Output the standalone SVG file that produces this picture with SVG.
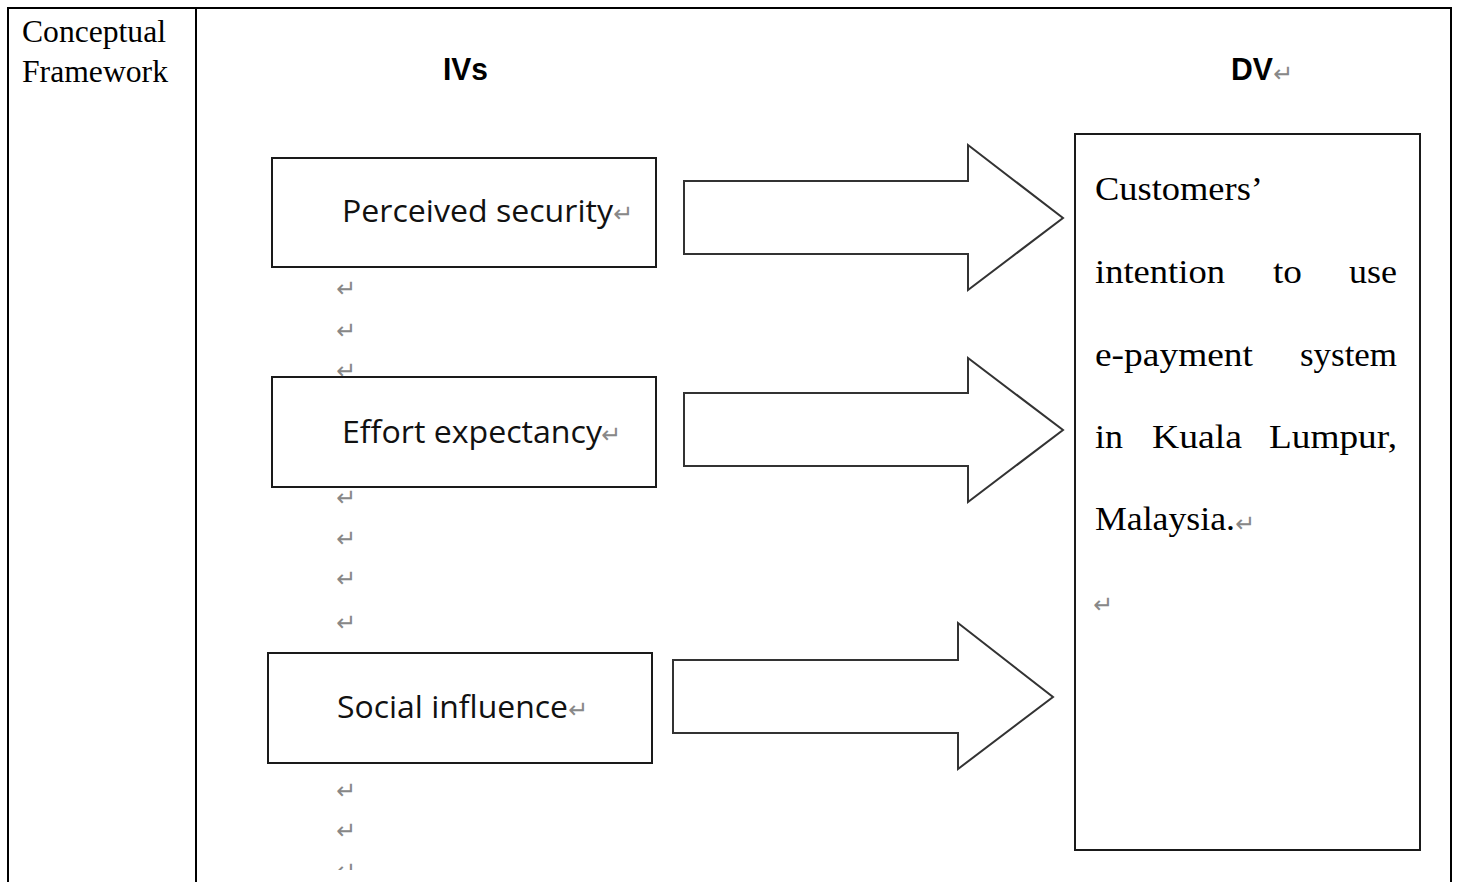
<svg xmlns="http://www.w3.org/2000/svg" width="1459" height="882" viewBox="0 0 1459 882">
<style>
.tb{fill:none;stroke:#000;stroke-width:2}
.box{fill:#fff;stroke:#1a1a1a;stroke-width:2}
.arr{fill:#fff;stroke:#333;stroke-width:2;stroke-linejoin:miter}
.serif{font-family:"Liberation Serif","Times New Roman",serif;fill:#000}
.lbl{font-family:"Open Sans","Noto Sans",sans-serif;font-size:31px;fill:#111}
.hd{font-family:"Liberation Sans",Arial,sans-serif;font-weight:bold;font-size:31px;fill:#000}
.pm{font-family:"DejaVu Sans",sans-serif;font-size:24px;fill:#888}
</style>
<defs>
<clipPath id="pg"><rect x="0" y="0" width="1459" height="870"/></clipPath>
</defs>
<rect x="0" y="0" width="1459" height="882" fill="#fff"/>
<g id="table">
<path class="tb" d="M8,882 V8 H1451 V882 M196,8 V882"/>
<text class="serif" x="22" y="42" font-size="31" textLength="144" lengthAdjust="spacingAndGlyphs">Conceptual</text>
<text class="serif" x="22" y="82" font-size="31" textLength="146" lengthAdjust="spacingAndGlyphs">Framework</text>
</g>
<g id="headers">
<text class="hd" x="443" y="80" textLength="45" lengthAdjust="spacingAndGlyphs">IVs</text>
<text class="hd" x="1231" y="80" textLength="42" lengthAdjust="spacingAndGlyphs">DV</text>
<text class="pm" x="1273" y="82">↵</text>
</g>
<g id="marks" clip-path="url(#pg)">
<text class="pm" x="336" y="297">↵</text>
<text class="pm" x="336" y="339">↵</text>
<text class="pm" x="336" y="379">↵</text>
<text class="pm" x="336" y="506">↵</text>
<text class="pm" x="336" y="547">↵</text>
<text class="pm" x="336" y="587">↵</text>
<text class="pm" x="336" y="631">↵</text>
<text class="pm" x="336" y="799">↵</text>
<text class="pm" x="336" y="839">↵</text>
<text class="pm" x="336" y="879">↵</text>
</g>
<g id="node-perceived-security">
<rect class="box" x="272" y="158" width="384" height="109"/>
<text class="lbl" x="342" y="222" textLength="271" lengthAdjust="spacingAndGlyphs">Perceived security</text>
<text class="pm" x="613" y="222">↵</text>
</g>
<g id="node-effort-expectancy">
<rect class="box" x="272" y="377" width="384" height="110"/>
<text class="lbl" x="342" y="443" textLength="260" lengthAdjust="spacingAndGlyphs">Effort expectancy</text>
<text class="pm" x="601" y="443">↵</text>
</g>
<g id="node-social-influence">
<rect class="box" x="268" y="653" width="384" height="110"/>
<text class="lbl" x="337" y="718" textLength="231" lengthAdjust="spacingAndGlyphs">Social influence</text>
<text class="pm" x="568" y="718">↵</text>
</g>
<g id="node-dv">
<rect class="box" x="1075" y="134" width="345" height="716"/>
<g class="serif" font-size="34">
<text x="1095" y="200" textLength="168" lengthAdjust="spacingAndGlyphs">Customers’</text>
<text x="1095" y="283" textLength="130" lengthAdjust="spacingAndGlyphs">intention</text>
<text x="1273" y="283" textLength="29" lengthAdjust="spacingAndGlyphs">to</text>
<text x="1349" y="283" textLength="48" lengthAdjust="spacingAndGlyphs">use</text>
<text x="1095" y="366" textLength="158" lengthAdjust="spacingAndGlyphs">e-payment</text>
<text x="1300" y="366" textLength="97" lengthAdjust="spacingAndGlyphs">system</text>
<text x="1095" y="448" textLength="28" lengthAdjust="spacingAndGlyphs">in</text>
<text x="1152" y="448" textLength="90" lengthAdjust="spacingAndGlyphs">Kuala</text>
<text x="1269" y="448" textLength="128" lengthAdjust="spacingAndGlyphs">Lumpur,</text>
<text x="1095" y="530" textLength="140" lengthAdjust="spacingAndGlyphs">Malaysia.</text>
</g>
<text class="pm" x="1235" y="532">↵</text>
<text class="pm" x="1093" y="613">↵</text>
</g>
<g id="connectors">
<path class="arr" d="M684,181 H968 V145 L1063,218 L968,290 V254 H684 Z"/>
<path class="arr" d="M684,393 H968 V358 L1063,430 L968,502 V466 H684 Z"/>
<path class="arr" d="M673,660 H958 V623 L1053,697 L958,769 V733 H673 Z"/>
</g>
</svg>
